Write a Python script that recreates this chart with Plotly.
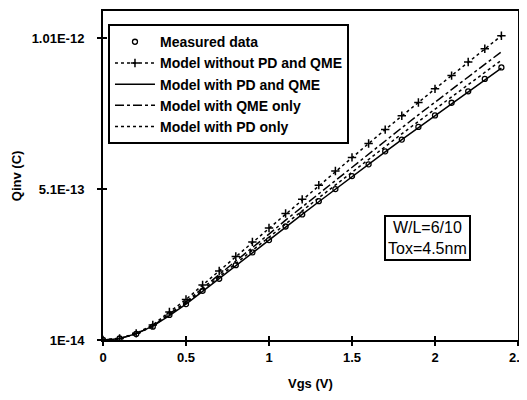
import plotly.graph_objects as go

vgs = [0.0, 0.1, 0.2, 0.3, 0.4, 0.5, 0.6, 0.7, 0.8, 0.9, 1.0, 1.1, 1.2,
       1.3, 1.4, 1.5, 1.6, 1.7, 1.8, 1.9, 2.0, 2.1, 2.2, 2.3, 2.4]

# values in units of 1e-13 C
measured = [0.10, 0.15, 0.30, 0.54, 0.93, 1.29, 1.73, 2.13, 2.58, 3.00, 3.41, 3.86, 4.26,
            4.70, 5.10, 5.53, 5.92, 6.35, 6.74, 7.16, 7.54, 7.96, 8.34, 8.75, 9.13]
model_none = [0.10, 0.15, 0.32, 0.60, 1.03, 1.44, 1.92, 2.39, 2.87, 3.35, 3.81, 4.29, 4.76,
              5.23, 5.70, 6.15, 6.61, 7.07, 7.53, 7.97, 8.42, 8.86, 9.31, 9.75, 10.18]
model_pd_qme = [0.10, 0.14, 0.31, 0.56, 0.91, 1.29, 1.71, 2.13, 2.56, 2.99, 3.41, 3.84, 4.26,
                4.68, 5.10, 5.51, 5.92, 6.33, 6.74, 7.14, 7.54, 7.94, 8.33, 8.72, 9.11]
model_qme = [0.10, 0.15, 0.31, 0.56, 0.97, 1.36, 1.82, 2.26, 2.72, 3.17, 3.61, 4.07, 4.51,
             4.96, 5.40, 5.83, 6.27, 6.70, 7.13, 7.56, 7.98, 8.40, 8.83, 9.24, 9.65]
model_pd = [0.10, 0.15, 0.30, 0.55, 0.95, 1.32, 1.76, 2.20, 2.64, 3.08, 3.51, 3.95, 4.38,
            4.81, 5.24, 5.66, 6.08, 6.50, 6.93, 7.34, 7.75, 8.16, 8.57, 8.97, 9.37]

y_tickvals = [1e-14, 5.1e-13, 1.01e-12]
y_ticktext = ["<b>1E-14</b>", "<b>5.1E-13</b>", "<b>1.01E-12</b>"]
x_tickvals = [0, 0.5, 1, 1.5, 2, 2.5]
x_ticktext = ["<b>0</b>", "<b>0.5</b>", "<b>1</b>", "<b>1.5</b>", "<b>2</b>", "<b>2.5</b>"]

def sc(v):
    return [a * 1e-13 for a in v]

FONT = "Liberation Sans, Arial, sans-serif"

fig = go.Figure()
fig.add_trace(go.Scatter(x=vgs, y=sc(measured), mode="markers", name="<b>Measured data</b>",
                         marker=dict(symbol="circle-open", size=5, color="black",
                                     line=dict(width=1.3, color="black"))))
fig.add_trace(go.Scatter(x=vgs, y=sc(model_none), mode="lines+markers",
                         name="<b>Model without PD and QME</b>",
                         line=dict(color="black", width=1.5, dash="dot"),
                         marker=dict(symbol="cross-thin-open", size=6,
                                     line=dict(width=1.5, color="black"), color="black")))
fig.add_trace(go.Scatter(x=vgs, y=sc(model_pd_qme), mode="lines",
                         name="<b>Model with PD and QME</b>",
                         line=dict(color="black", width=1.5)))
fig.add_trace(go.Scatter(x=vgs, y=sc(model_qme), mode="lines",
                         name="<b>Model with QME only</b>",
                         line=dict(color="black", width=1.5, dash="dashdot")))
fig.add_trace(go.Scatter(x=vgs, y=sc(model_pd), mode="lines",
                         name="<b>Model with PD only</b>",
                         line=dict(color="black", width=1.5, dash="dot")))

# invisible helper for the outer half of the crossing ticks
fig.add_trace(go.Scatter(x=[0], y=[1e-14], xaxis="x2", yaxis="y2", mode="markers",
                         marker=dict(opacity=0), showlegend=False, hoverinfo="skip"))

fig.update_layout(
    width=519, height=392,
    margin=dict(l=95, r=9, t=3, b=60),
    paper_bgcolor="white", plot_bgcolor="white",
    font=dict(family=FONT, color="black", size=13),
    showlegend=True,
    xaxis=dict(range=[0, 2.5], tickvals=x_tickvals, ticktext=x_ticktext, automargin=False,
               showgrid=False, zeroline=False, showline=True, linecolor="black",
               linewidth=2, mirror=True, ticks="inside", ticklen=4, tickwidth=1.5,
               tickcolor="black", tickfont=dict(size=13), ticklabelstandoff=4,
               ticklabeloverflow="allow"),
    yaxis=dict(range=[1e-14, 1.1e-12], tickvals=y_tickvals, ticktext=y_ticktext,
               automargin=False,
               showgrid=False, zeroline=False, showline=True, linecolor="black",
               linewidth=2, mirror=True, ticks="inside", ticklen=4, tickwidth=1.5,
               tickcolor="black", tickfont=dict(size=13), ticklabelstandoff=14),
    xaxis2=dict(overlaying="x", matches="x", range=[0, 2.5], tickvals=x_tickvals,
                automargin=False,
                showticklabels=False, ticks="outside", ticklen=5, tickwidth=1.5,
                tickcolor="black", showgrid=False, zeroline=False, showline=False),
    yaxis2=dict(overlaying="y", matches="y", range=[1e-14, 1.1e-12], tickvals=y_tickvals,
                automargin=False,
                showticklabels=False, ticks="outside", ticklen=5, tickwidth=1.5,
                tickcolor="black", showgrid=False, zeroline=False, showline=False),
    legend=dict(x=0.012, y=0.96, xanchor="left", yanchor="top",
                bgcolor="white", bordercolor="black", borderwidth=2,
                font=dict(size=14, family=FONT), itemwidth=40, tracegroupgap=0),
    annotations=[
        dict(x=0.783, y=0.31, xref="paper", yref="paper", xanchor="center", yanchor="middle",
             text="W/L=6/10<br>Tox=4.5nm", showarrow=False,
             font=dict(size=16, family=FONT), align="center",
             bordercolor="black", borderwidth=2, borderpad=2, bgcolor="white"),
        dict(x=-0.208, y=0.5, xref="paper", yref="paper", xanchor="center", yanchor="middle",
             text="<b>Qinv (C)</b>", textangle=-90, showarrow=False,
             font=dict(size=13, family=FONT)),
        dict(x=0.499, y=-0.131, xref="paper", yref="paper", xanchor="center", yanchor="middle",
             text="<b>Vgs (V)</b>", showarrow=False, font=dict(size=13, family=FONT)),
    ],
)

fig.write_html("out.html")
